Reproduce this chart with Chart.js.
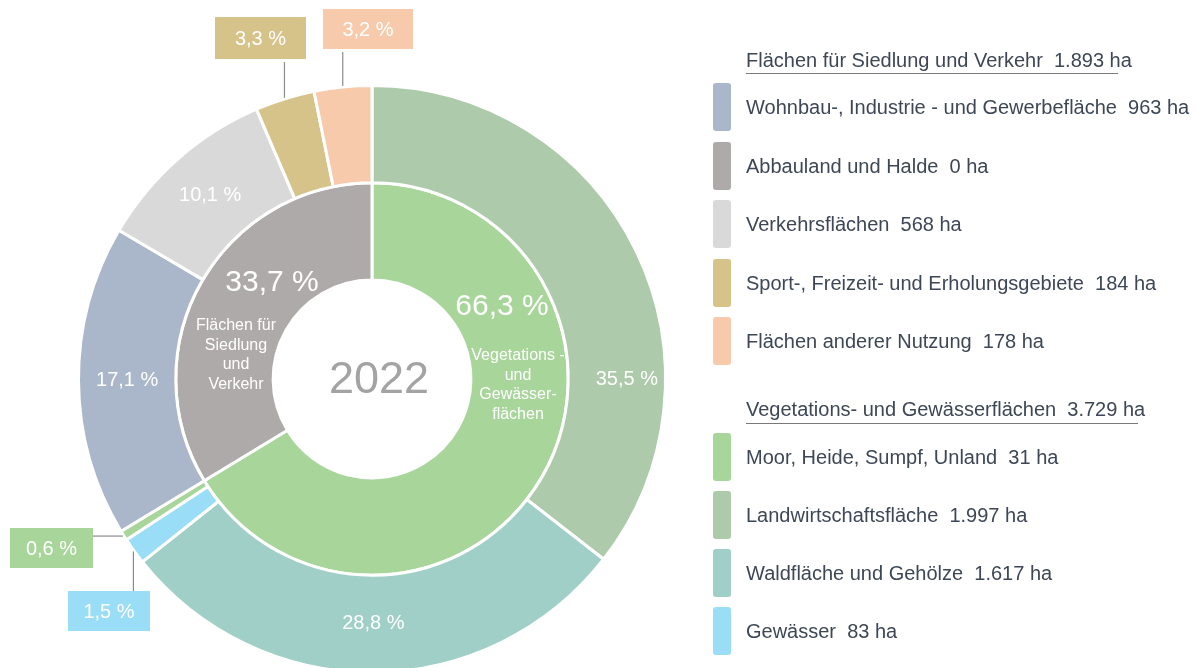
<!DOCTYPE html>
<html lang="de">
<head>
<meta charset="utf-8">
<title>Flächennutzung 2022</title>
<script src="https://cdn.jsdelivr.net/npm/chart.js@4.4.0/dist/chart.umd.min.js"></script>
<style>
  html, body { margin: 0; padding: 0; background: #fff; overflow: hidden; width: 1197px; height: 668px; }
  #chartBox { position: absolute; left: 0; top: 0; width: 760px; height: 700px; }
  #legend { position: absolute; left: 0; top: 0; font-family: "Liberation Sans", Arial, sans-serif; color: #3d4756; }
  .hdr, .lbl { position: absolute; left: 746px; font-size: 20px; line-height: 24px; white-space: pre; }
  .rule { position: absolute; left: 746px; height: 0; border-top: 1.5px solid #7a7a7a; }
  .sw { position: absolute; left: 713px; width: 18px; height: 48px; border-radius: 3px; }
</style>
</head>
<body>
<div id="chartBox"><canvas id="flaeche" width="760" height="700"></canvas></div>
<div id="legend"></div>
<script>
// outer ring, in drawing order (clockwise from the top)
var outerNames = ["Landwirtschaftsfläche", "Waldfläche und Gehölze", "Gewässer", "Moor, Heide, Sumpf, Unland",
    "Wohnbau-, Industrie - und Gewerbefläche", "Abbauland und Halde", "Verkehrsflächen",
    "Sport-, Freizeit- und Erholungsgebiete", "Flächen anderer Nutzung"];
var outerHa = [1997, 1617, 83, 31, 963, 0, 568, 184, 178];
var outerColors = ["#adcaaa", "#9fcfc6", "#9addf6", "#a8d59a", "#aab6c9", "#aeaaa9", "#d9d9d9", "#d6c38a", "#f7caab"];

// inner ring
var innerNames = ["Vegetations- und Gewässerflächen", "Flächen für Siedlung und Verkehr"];
var innerHa = [3729, 1893];
var innerColors = ["#a8d59a", "#aeaaa9"];
var innerText = [["Vegetations -", "und", "Gewässer-", "flächen"], ["Flächen für", "Siedlung", "und", "Verkehr"]];

var yearLabel = "2022";

// legend groups: header = inner index, items = outer indices
var legendGroups = [
    { head: 1, items: [4, 5, 6, 7, 8] },
    { head: 0, items: [3, 0, 1, 2] }
];

function fmtHa(n) {
    return String(n).replace(/\B(?=(\d{3})+(?!\d))/g, ".") + " ha";
}
function fmtPct(v, total) {
    return (v / total * 100).toFixed(1).replace(".", ",") + " %";
}
function sum(a) { return a.reduce(function (s, v) { return s + v; }, 0); }

// legend
var leg = document.getElementById("legend");
var legLayout = [
    { hdrTop: 48, ruleTop: 73, ruleW: 372, firstSw: 83, step: 58.5 },
    { hdrTop: 397, ruleTop: 423, ruleW: 392, firstSw: 432.5, step: 58.3 }
];
legendGroups.forEach(function (g, gi) {
    var L = legLayout[gi];
    var h = document.createElement("div");
    h.className = "hdr";
    h.style.top = L.hdrTop + "px";
    h.textContent = innerNames[g.head] + "  " + fmtHa(innerHa[g.head]);
    leg.appendChild(h);
    var r = document.createElement("div");
    r.className = "rule";
    r.style.top = L.ruleTop + "px";
    r.style.width = L.ruleW + "px";
    leg.appendChild(r);
    g.items.forEach(function (idx, k) {
        var top = L.firstSw + k * L.step;
        var sw = document.createElement("div");
        sw.className = "sw";
        sw.style.top = top + "px";
        sw.style.background = outerColors[idx];
        leg.appendChild(sw);
        var t = document.createElement("div");
        t.className = "lbl";
        t.style.top = (top + 24 - 12) + "px";
        t.textContent = outerNames[idx] + "  " + fmtHa(outerHa[idx]);
        leg.appendChild(t);
    });
});

// callout boxes for the thin slices
var callouts = {
    7: { dir: "up", box: { x: 215, y: 17, w: 91, h: 42 } },
    8: { dir: "up", box: { x: 323, y: 9, w: 90, h: 40 } },
    3: { dir: "left", box: { x: 10, y: 528, w: 83, h: 40 } },
    2: { dir: "down", box: { x: 68, y: 591, w: 82, h: 40 } }
};

var FONT = '"Liberation Sans", Arial, sans-serif';

var ringLabels = {
    id: "ringLabels",
    afterDatasetsDraw: function (chart) {
        var ctx = chart.ctx;
        var outer = chart.getDatasetMeta(0).data;
        var inner = chart.getDatasetMeta(1).data;
        var totO = sum(outerHa), totI = sum(innerHa);
        ctx.save();
        ctx.textAlign = "center";
        ctx.textBaseline = "middle";

        outer.forEach(function (arc, i) {
            if (outerHa[i] === 0) return;
            var p = arc.getProps(["x", "y", "startAngle", "endAngle", "innerRadius", "outerRadius"], true);
            var mid = (p.startAngle + p.endAngle) / 2;
            var txt = fmtPct(outerHa[i], totO);
            var c = callouts[i];
            if (!c) {
                var a = i === 0 ? 0 : mid;
                var rr = (p.innerRadius + p.outerRadius) / 2 + (i === 0 ? 10 : 0);
                ctx.fillStyle = "#fff";
                ctx.font = "20px " + FONT;
                ctx.fillText(txt, p.x + Math.cos(a) * rr, p.y + Math.sin(a) * rr);
                return;
            }
            var ex = p.x + Math.cos(mid) * (p.outerRadius + 1);
            var ey = p.y + Math.sin(mid) * (p.outerRadius + 1);
            var b = c.box;
            ctx.strokeStyle = "#8c8c8c";
            ctx.lineWidth = 1.2;
            ctx.beginPath();
            ctx.moveTo(ex, ey);
            if (c.dir === "up") ctx.lineTo(ex, b.y + b.h + 3);
            else if (c.dir === "down") ctx.lineTo(ex, b.y);
            else ctx.lineTo(b.x + b.w, ey);
            ctx.stroke();
            ctx.fillStyle = outerColors[i];
            ctx.fillRect(b.x, b.y, b.w, b.h);
            ctx.fillStyle = "#fff";
            ctx.font = "20px " + FONT;
            ctx.fillText(txt, b.x + b.w / 2, b.y + b.h / 2 + 1);
        });

        // inner ring texts
        var cx = inner[0].x, cy = inner[0].y;
        var pctPos = [[130, -72], [-100, -96]];
        var subPos = [[146, -23], [-136, -53]];
        inner.forEach(function (arc, i) {
            ctx.fillStyle = "#fff";
            ctx.font = "30px " + FONT;
            ctx.fillText(fmtPct(innerHa[i], totI), cx + pctPos[i][0], cy + pctPos[i][1]);
            ctx.font = "16px " + FONT;
            innerText[i].forEach(function (line, k) {
                ctx.fillText(line, cx + subPos[i][0], cy + subPos[i][1] + k * 19.5);
            });
        });

        ctx.fillStyle = "#a3a3a3";
        ctx.font = "45px " + FONT;
        ctx.fillText(yearLabel, cx + 7, cy + 2);
        ctx.restore();
    }
};

new Chart(document.getElementById("flaeche").getContext("2d"), {
    type: "doughnut",
    data: {
        labels: outerNames,
        datasets: [
            {
                data: outerHa,
                backgroundColor: outerColors,
                borderColor: "#fff",
                borderWidth: 3,
                hoverOffset: 0
            },
            {
                data: innerHa,
                backgroundColor: innerColors,
                borderColor: "#fff",
                borderWidth: 3,
                hoverOffset: 0
            }
        ]
    },
    options: {
        responsive: false,
        animation: false,
        cutout: "33.7%",
        layout: {
            padding: { left: 77, top: 84, right: 93, bottom: 26 }
        },
        plugins: {
            legend: { display: false },
            tooltip: { enabled: false }
        }
    },
    plugins: [ringLabels]
});
</script>
</body>
</html>
